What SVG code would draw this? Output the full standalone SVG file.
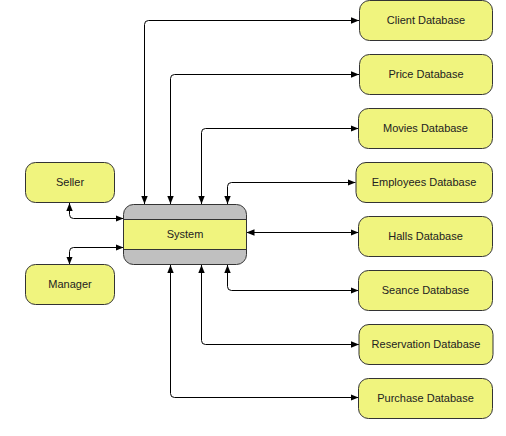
<svg xmlns="http://www.w3.org/2000/svg" width="506" height="436" viewBox="0 0 506 436">
<style>
.n{fill:#F0F47E;stroke:#333;stroke-width:1}
.g{fill:#C0C0C0;stroke:#333;stroke-width:1}
.t{font-family:"Liberation Sans",Arial,sans-serif;font-size:11px;fill:#222;text-anchor:middle;dominant-baseline:central}
.c{fill:none;stroke:#000;stroke-width:1;marker-start:url(#a);marker-end:url(#a)}
</style>
<defs>
<marker id="a" viewBox="0 0 10 10" refX="10" refY="5" markerWidth="8" markerHeight="8" markerUnits="userSpaceOnUse" orient="auto-start-reverse">
<path d="M0,1 L10,5 L0,9 Z" fill="#000"/>
</marker>
</defs>
<rect width="506" height="436" fill="#fff"/>
<g id="connectors">
<path class="c" d="M144.5,204 V24.5 Q144.5,20.5 148.5,20.5 H359"/>
<path class="c" d="M170.5,204 V78.5 Q170.5,74.5 174.5,74.5 H359"/>
<path class="c" d="M201.5,204 V132.5 Q201.5,128.5 205.5,128.5 H358.5"/>
<path class="c" d="M227.5,204 V186.5 Q227.5,182.5 231.5,182.5 H355.5"/>
<path class="c" d="M246.5,232.5 H358.5"/>
<path class="c" d="M227.5,265 V286.5 Q227.5,290.5 231.5,290.5 H358.5"/>
<path class="c" d="M201.5,265 V340.5 Q201.5,344.5 205.5,344.5 H359"/>
<path class="c" d="M170.5,265 V393.5 Q170.5,397.5 174.5,397.5 H358.5"/>
<path class="c" d="M69.5,203 V214.5 Q69.5,218.5 73.5,218.5 H123.5"/>
<path class="c" d="M123.5,247.5 H73.5 Q69.5,247.5 69.5,251.5 V264.5"/>
</g>
<g id="system">
<rect class="g" x="123.5" y="204.5" width="123" height="60" rx="10"/>
<rect class="n" x="123.5" y="219.5" width="123" height="30"/>
<text class="t" x="185" y="233.5">System</text>
</g>
<g id="seller">
<rect class="n" x="25.5" y="162.5" width="89" height="40" rx="10"/>
<text class="t" x="70" y="181.5">Seller</text>
</g>
<g id="manager">
<rect class="n" x="25.5" y="264.5" width="89" height="40" rx="10"/>
<text class="t" x="70" y="283.5">Manager</text>
</g>
<g id="client">
<rect class="n" x="359.5" y="0.5" width="133" height="40" rx="10"/>
<text class="t" x="426" y="19.5">Client Database</text>
</g>
<g id="price">
<rect class="n" x="359.5" y="54.5" width="133" height="40" rx="10"/>
<text class="t" x="426" y="73.5">Price Database</text>
</g>
<g id="movies">
<rect class="n" x="358.5" y="108.5" width="134" height="40" rx="10"/>
<text class="t" x="425.5" y="127.5">Movies Database</text>
</g>
<g id="employees">
<rect class="n" x="356" y="162.5" width="136.5" height="40" rx="10"/>
<text class="t" x="424" y="181.5">Employees Database</text>
</g>
<g id="halls">
<rect class="n" x="358.5" y="216.5" width="134" height="40" rx="10"/>
<text class="t" x="425.5" y="235.5">Halls Database</text>
</g>
<g id="seance">
<rect class="n" x="358.5" y="270.5" width="134" height="40" rx="10"/>
<text class="t" x="425.5" y="289.5">Seance Database</text>
</g>
<g id="reservation">
<rect class="n" x="359" y="324.5" width="134" height="40" rx="10"/>
<text class="t" x="426" y="343.5">Reservation Database</text>
</g>
<g id="purchase">
<rect class="n" x="358.5" y="378.5" width="134" height="40" rx="10"/>
<text class="t" x="425.5" y="397.5">Purchase Database</text>
</g>
</svg>
